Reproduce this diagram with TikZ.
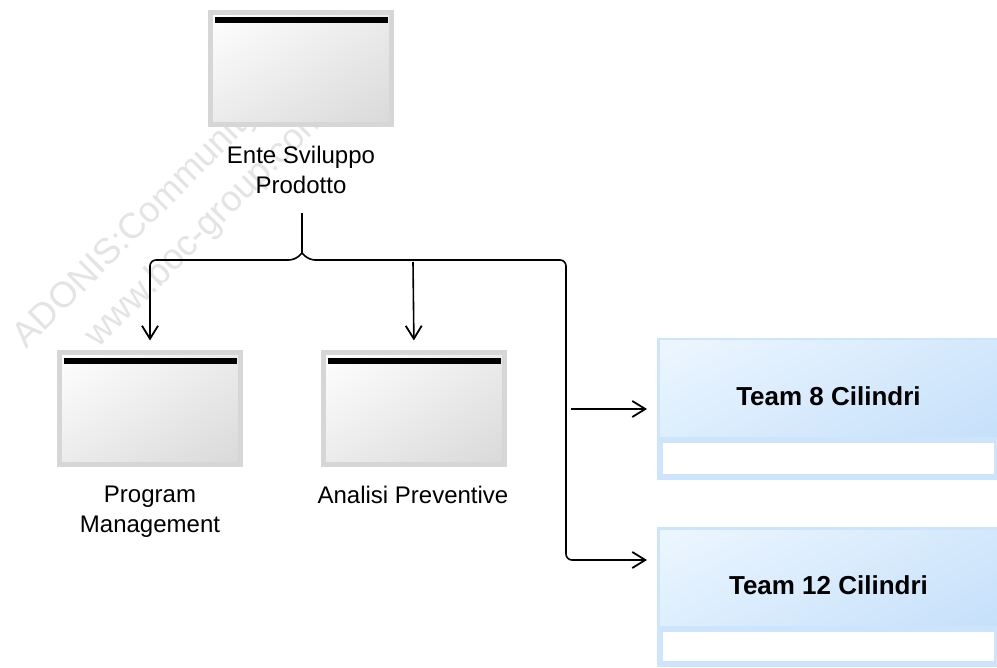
\documentclass[tikz,border=0pt]{standalone}
\usepackage{fontspec}
\setmainfont{Liberation Sans}
\usetikzlibrary{arrows.meta,shadings}
\definecolor{gbord}{HTML}{D6D6D6}
\definecolor{gmid}{HTML}{EBEBEB}
\definecolor{gdark}{HTML}{D9D9D9}
\definecolor{bbord}{HTML}{CCE4FC}
\definecolor{bUL}{HTML}{EDF6FF}
\definecolor{bUR}{HTML}{D3E8FC}
\definecolor{bLL}{HTML}{DDEEFD}
\definecolor{bLR}{HTML}{C6E0FA}
\definecolor{wmark}{HTML}{E4E4E4}
\begin{document}
\begin{tikzpicture}[x=1pt,y=-1pt,
  graybox/.style={draw=gbord, line width=5pt, minimum width=181pt, minimum height=112pt, inner sep=0pt,
    shade, upper left=white, upper right=gmid, lower left=gmid, lower right=gdark},
  blackbar/.style={line width=6pt, black},
  teambox/.style={draw=bbord, line width=6pt, fill=white, minimum width=337pt, inner sep=0pt},
  hdrshade/.style={upper left=bUL, upper right=bUR, lower left=bLL, lower right=bLR},
  lbl/.style={align=center, inner sep=0pt, anchor=north, font=\fontsize{24}{30}\selectfont},
  teamlbl/.style={inner sep=0pt, font=\bfseries\fontsize{26}{30}\selectfont},
  wm/.style={text=wmark, inner sep=0pt, rotate=45, font=\fontsize{36}{36}\selectfont},
  conn/.style={line width=1.6pt, black},
  arr/.style={-{Straight Barb[length=13pt,width=16pt,line width=1.8pt]}, shorten >=10pt}
]
\fill[white] (0,0) rectangle (997,668);
\useasboundingbox (0,0) rectangle (997,668);

% watermark
\node[wm] (wm1) at (137,226) {ADONIS:Community};
\node[wm] (wm2) at (207,227) {www.boc-group.com};

% gray org units
\node[graybox] (ente) at (301,68.5) {};
\node[graybox] (pm) at (150,409) {};
\node[graybox] (ap) at (414,409) {};
\foreach \n in {ente,pm,ap}{
  \draw[blackbar] ([xshift=6.5pt,yshift=-10.5pt]\n.north west) -- ([xshift=-6.5pt,yshift=-10.5pt]\n.north east);
}
\node[lbl] (entel) at (301,146) {Ente Sviluppo\\Prodotto};
\node[lbl] (pml) at (150,486) {Program\\Management};
\node[lbl] (apl) at (413,486) {Analisi Preventive};

% team boxes
\node[teambox, minimum height=136pt] (t8) at (828.5,409) {};
\node[teambox, minimum height=134pt] (t12) at (828.5,597) {};
\foreach \n in {t8,t12}{
  \shade[hdrshade] ([shift={(3pt,-3pt)}]\n.north west) rectangle ([shift={(-3pt,-99pt)}]\n.north east);
  \draw[bbord, line width=6pt] ([yshift=-102pt]\n.north west) -- ([yshift=-102pt]\n.north east);
}
\node[teamlbl] (t8l) at ([yshift=-58pt]t8.north) {Team 8 Cilindri};
\node[teamlbl] (t12l) at ([yshift=-58pt]t12.north) {Team 12 Cilindri};

% connectors
\coordinate (src) at (302,213);
\coordinate (hop) at (302,253);
\draw[conn] (src) -- (hop);
\draw[conn, arr, rounded corners=6pt] (hop) -- (295,260) -- (pm.north |- 0,260) -- (pm.north);
\draw[conn, rounded corners=6pt] (hop) -- (309,260) -- (566,260) -- (566,560) -- ([yshift=37pt]t12.west) [arr];
\draw[conn, arr] (413,262) -- (ap.north);
\draw[conn, arr] (571,409) -- (t8.west);
\end{tikzpicture}
\end{document}
